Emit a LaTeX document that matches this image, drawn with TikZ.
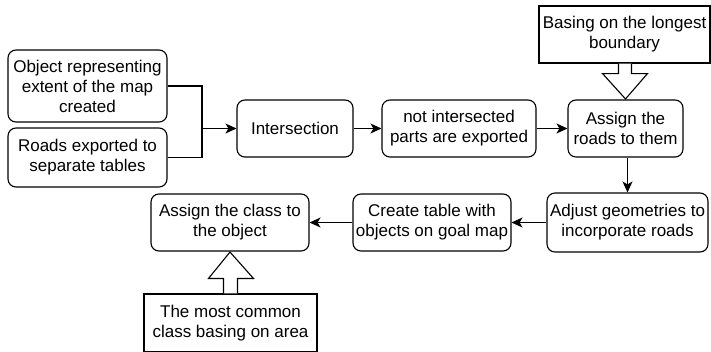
\documentclass[tikz,border=0pt]{standalone}
\usepackage{fontspec}
\setmainfont{Liberation Sans}
\usetikzlibrary{arrows.meta,calc}
\begin{document}
\begin{tikzpicture}[x=1pt,y=-1pt,
  every node/.style={font=\fontsize{17}{20}\selectfont, align=center, inner sep=0pt},
  rbox/.style={draw, line width=1.1pt, rounded corners=8pt},
  sbox/.style={draw, line width=1.1pt},
  conn/.style={line width=1.1pt, -{Stealth[length=11pt,width=10pt,inset=3pt]}},
  plain/.style={line width=1.1pt},
  blk/.style={draw, line width=1.1pt, fill=white, line join=miter}
]
\useasboundingbox (0,0) rectangle (711,351);
\node[rbox, minimum width=159pt, minimum height=72pt] (obj) at (87.5,86) {Object representing\\extent of the map\\created};
\node[rbox, minimum width=159pt, minimum height=59pt] (roads) at (87.5,157.5) {Roads exported to\\separate tables};
\node[rbox, minimum width=116pt, minimum height=57pt] (inter) at (295,128.5) {Intersection};
\node[rbox, minimum width=154pt, minimum height=57pt] (notint) at (459,128.5) {not intersected\\parts are exported};
\node[rbox, minimum width=115pt, minimum height=57pt] (assignr) at (625.5,128.5) {Assign the\\roads to them};
\node[sbox, minimum width=171pt, minimum height=57pt] (basing) at (624.5,34.5) {Basing on the longest\\boundary};
\node[rbox, minimum width=161pt, minimum height=59pt] (adjust) at (627.5,222.5) {Adjust geometries to\\incorporate roads};
\node[rbox, minimum width=158pt, minimum height=57pt] (create) at (432,222.5) {Create table with\\objects on goal map};
\node[rbox, minimum width=158pt, minimum height=57pt] (assignc) at (230,222.5) {Assign the class to\\the object};
\node[sbox, minimum width=173pt, minimum height=58pt] (common) at (230.5,323) {The most common\\class basing on area};

\coordinate (j) at (202,128.5);
\draw[plain] (obj.east) -| (j);
\draw[plain] (roads.east) -| (j);
\draw[conn] (j) -- (inter.west);
\draw[conn] (inter.east) -- (notint.west);
\draw[conn] (notint.east) -- (assignr.west);
\draw[conn] ($(assignr.south)+(2,0)$) -- ($(assignr.south |- adjust.north)+(2,0)$);
\draw[conn] (adjust.west) -- (create.east);
\draw[conn] (create.west) -- (assignc.east);

% block arrow down from basing to assign roads
\draw[blk] ($(basing.south)+(-6,0)$) -- ++(0,10) -- ++(-16,0) -- ($(assignr.north)+(0,-0.5)$) -- ($(basing.south)+(23,10)$) -- ++(-16,0) -- ($(basing.south)+(7,0)$);
% block arrow up from common to assign class
\draw[blk] ($(common.north)+(-7,0)$) -- ++(0,-15) -- ++(-15,0) -- ($(assignc.south)+(0,0.5)$) -- ($(common.north)+(23,-15)$) -- ++(-16,0) -- ($(common.north)+(7,0)$);
\end{tikzpicture}
\end{document}
